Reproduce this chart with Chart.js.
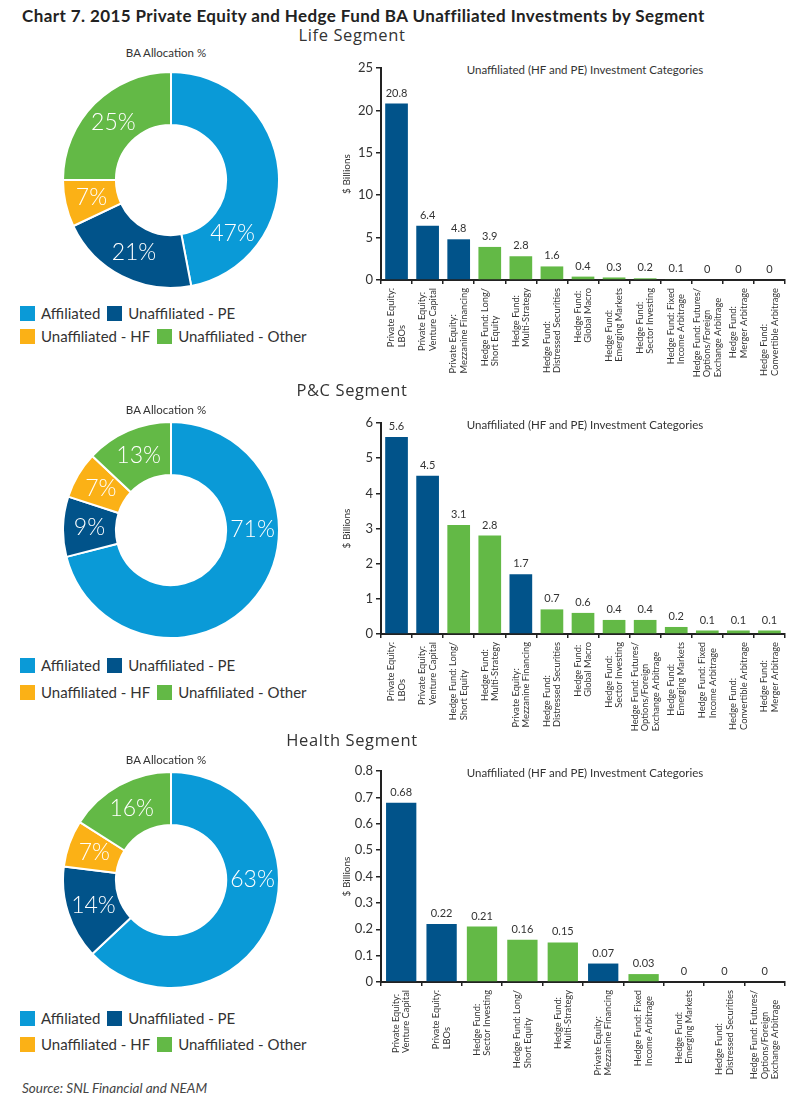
<!DOCTYPE html>
<html>
<head>
<meta charset="utf-8">
<script src="https://cdn.jsdelivr.net/npm/chart.js@4.4.1/dist/chart.umd.min.js"></script>
<style>
  body { margin: 0; background: #fff; font-family: Lato, "Open Sans", sans-serif; color: #333; }
  #page { position: relative; width: 798px; height: 1104px; overflow: hidden; }
  .abs { position: absolute; white-space: nowrap; }
  .title { left: 22px; top: 5px; font-size: 17px; font-weight: bold; color: #222; letter-spacing: 0.4px; }
  .seg { left: 0; width: 704px; text-align: center; font-family: "Open Sans", sans-serif; font-size: 16.5px; color: #333; line-height: 20px; letter-spacing: 0.6px; }
  .ba { left: 66px; width: 200px; text-align: center; font-size: 11.5px; color: #333; line-height: 14px; }
  .bartitle { left: 400px; width: 370px; text-align: center; font-size: 11.5px; color: #333; line-height: 14px; }
  .legrow { left: 20px; display: flex; align-items: center; font-size: 15px; color: #333; line-height: 18px; }
  .legitem { display: flex; align-items: center; margin-right: 7px; }
  .box { width: 15px; height: 15px; margin-right: 6px; }
  .source { left: 22px; top: 1080px; font-size: 13.5px; font-style: italic; color: #444; }
</style>
</head>
<body>
<div id="page">
  <div class="abs title">Chart 7. 2015 Private Equity and Hedge Fund BA Unaffiliated Investments by Segment</div>
  <div class="abs source">Source: SNL Financial and NEAM</div>
</div>

<script>
// donut segments
const segLabels = ['Affiliated', 'Unaffiliated - PE', 'Unaffiliated - HF', 'Unaffiliated - Other'];
const segColors = ['#0a9ad7', '#01538a', '#fbb116', '#63b946'];
const lifeShare = [47, 21, 7, 25];
const pcShare = [71, 9, 7, 13];
const healthShare = [63, 14, 7, 16];

// bar colours: private equity vs hedge fund
const peColor = '#01538a';
const hfColor = '#63b946';

// Life segment bars
const lifeCats = [
  ['Private Equity:', 'LBOs'],
  ['Private Equity:', 'Venture Capital'],
  ['Private Equity:', 'Mezzanine Financing'],
  ['Hedge Fund: Long/', 'Short Equity'],
  ['Hedge Fund:', 'Multi-Strategy'],
  ['Hedge Fund:', 'Distressed Securities'],
  ['Hedge Fund:', 'Global Macro'],
  ['Hedge Fund:', 'Emerging Markets'],
  ['Hedge Fund:', 'Sector Investing'],
  ['Hedge Fund: Fixed', 'Income Arbitrage'],
  ['Hedge Fund: Futures/', 'Options/Foreign', 'Exchange Arbitrage'],
  ['Hedge Fund:', 'Merger Arbitrage'],
  ['Hedge Fund:', 'Convertible Arbitrage']
];
const lifeVals = [20.8, 6.4, 4.8, 3.9, 2.8, 1.6, 0.4, 0.3, 0.2, 0.1, 0, 0, 0];
const lifeTicks = { max: 25, step: 5 };

// P&C segment bars
const pcCats = [
  ['Private Equity:', 'LBOs'],
  ['Private Equity:', 'Venture Capital'],
  ['Hedge Fund: Long/', 'Short Equity'],
  ['Hedge Fund:', 'Multi-Strategy'],
  ['Private Equity:', 'Mezzanine Financing'],
  ['Hedge Fund:', 'Distressed Securities'],
  ['Hedge Fund:', 'Global Macro'],
  ['Hedge Fund:', 'Sector Investing'],
  ['Hedge Fund: Futures/', 'Options/Foreign', 'Exchange Arbitrage'],
  ['Hedge Fund:', 'Emerging Markets'],
  ['Hedge Fund: Fixed', 'Income Arbitrage'],
  ['Hedge Fund:', 'Convertible Arbitrage'],
  ['Hedge Fund:', 'Merger Arbitrage']
];
const pcVals = [5.6, 4.5, 3.1, 2.8, 1.7, 0.7, 0.6, 0.4, 0.4, 0.2, 0.1, 0.1, 0.1];
const pcTicks = { max: 6, step: 1 };

// Health segment bars
const healthCats = [
  ['Private Equity:', 'Venture Capital'],
  ['Private Equity:', 'LBOs'],
  ['Hedge Fund:', 'Sector Investing'],
  ['Hedge Fund: Long/', 'Short Equity'],
  ['Hedge Fund:', 'Multi-Strategy'],
  ['Private Equity:', 'Mezzanine Financing'],
  ['Hedge Fund: Fixed', 'Income Arbitrage'],
  ['Hedge Fund:', 'Emerging Markets'],
  ['Hedge Fund:', 'Distressed Securities'],
  ['Hedge Fund: Futures/', 'Options/Foreign', 'Exchange Arbitrage']
];
const healthVals = [0.68, 0.22, 0.21, 0.16, 0.15, 0.07, 0.03, 0, 0, 0];
const healthTicks = { max: 0.8, step: 0.1 };

// page layout per segment
const sections = [
  { name: 'Life Segment', shares: lifeShare, cats: lifeCats, vals: lifeVals, ticks: lifeTicks,
    subY: 25, baY: 46, cy: 180, legY: [304, 327], plotTop: 68, axisY: 280, bigAngle: 131, barPct: 0.73 },
  { name: 'P&C Segment', shares: pcShare, cats: pcCats, vals: pcVals, ticks: pcTicks,
    subY: 380, baY: 403, cy: 530, legY: [656, 683], plotTop: 423, axisY: 634, bigAngle: 90, barPct: 0.73 },
  { name: 'Health Segment', shares: healthShare, cats: healthCats, vals: healthVals, ticks: healthTicks,
    subY: 730, baY: 753, cy: 880, legY: [1009, 1035], plotTop: 771, axisY: 982, bigAngle: 90, barPct: 0.75 }
];

const page = document.getElementById('page');

function addDiv(cls, top, html) {
  const d = document.createElement('div');
  d.className = 'abs ' + cls;
  d.style.top = top + 'px';
  d.innerHTML = html;
  page.appendChild(d);
  return d;
}

function addCanvas(left, top, w, h) {
  const c = document.createElement('canvas');
  c.width = w; c.height = h;
  c.style.position = 'absolute';
  c.style.left = left + 'px';
  c.style.top = top + 'px';
  c.style.width = w + 'px';
  c.style.height = h + 'px';
  page.appendChild(c);
  return c;
}

// percent labels inside the ring
const pctLabels = {
  id: 'pctLabels',
  afterDatasetsDraw(chart, args, opts) {
    const ctx = chart.ctx;
    const vals = chart.data.datasets[0].data;
    ctx.save();
    ctx.font = '300 23px Lato';
    ctx.fillStyle = '#fff';
    ctx.textAlign = 'center';
    ctx.textBaseline = 'middle';
    chart.getDatasetMeta(0).data.forEach((arc, i) => {
      let a = (arc.startAngle + arc.endAngle) / 2;
      if (opts.angles && opts.angles[i] != null) a = (opts.angles[i] - 90) * Math.PI / 180;
      const r = (arc.innerRadius + arc.outerRadius) / 2;
      ctx.fillText(vals[i] + '%', arc.x + r * Math.cos(a), arc.y + r * Math.sin(a));
    });
    ctx.restore();
  }
};

// value labels above bars
const valueLabels = {
  id: 'valueLabels',
  afterDatasetsDraw(chart) {
    const ctx = chart.ctx;
    const vals = chart.data.datasets[0].data;
    ctx.save();
    ctx.font = '11px Lato';
    ctx.fillStyle = '#333';
    ctx.textAlign = 'center';
    ctx.textBaseline = 'bottom';
    chart.getDatasetMeta(0).data.forEach((bar, i) => {
      ctx.fillText(String(vals[i]), bar.x, bar.y - 5);
    });
    ctx.restore();
  }
};

// rotated category labels, lines left aligned, block ending near the axis
const catLabels = {
  id: 'catLabels',
  afterDraw(chart) {
    const xs = chart.scales.x;
    const ctx = chart.ctx;
    ctx.save();
    ctx.font = '9.3px Lato';
    ctx.fillStyle = '#333';
    ctx.textBaseline = 'middle';
    ctx.textAlign = 'left';
    chart.data.labels.forEach((lines, i) => {
      const x = xs.getPixelForValue(i);
      const w = Math.max(...lines.map(l => ctx.measureText(l).width));
      ctx.save();
      ctx.translate(x, xs.top + 8 + w);
      ctx.rotate(-Math.PI / 2);
      lines.forEach((l, j) => ctx.fillText(l, 0, (j - (lines.length - 1) / 2) * 10.5));
      ctx.restore();
    });
    ctx.restore();
  }
};

sections.forEach(s => {
  addDiv('seg', s.subY, s.name);
  addDiv('ba', s.baY, 'BA Allocation %');

  // legend
  const rows = [[0, 1], [2, 3]];
  rows.forEach((r, k) => {
    const html = r.map(i =>
      '<span class="legitem"><span class="box" style="background:' + segColors[i] + '"></span>' + segLabels[i] + '</span>'
    ).join('');
    addDiv('legrow', s.legY[k], html);
  });

  // donut
  const size = 218;
  const dc = addCanvas(171 - size / 2, s.cy - size / 2, size, size);
  new Chart(dc, {
    type: 'doughnut',
    data: {
      labels: segLabels,
      datasets: [{
        data: s.shares,
        backgroundColor: segColors,
        borderColor: '#fff',
        borderWidth: 2,
        hoverOffset: 0
      }]
    },
    options: {
      responsive: false,
      animation: false,
      cutout: '51%',
      layout: { padding: 0 },
      plugins: {
        legend: { display: false },
        tooltip: { enabled: false },
        pctLabels: { angles: [s.bigAngle, null, null, null] }
      }
    },
    plugins: [pctLabels]
  });

  // bar chart
  addDiv('bartitle', s.plotTop - 5, 'Unaffiliated (HF and PE) Investment Categories');
  const padTop = 13;
  const padBottom = 100;
  const top = s.plotTop - padTop;
  const h = (s.axisY - s.plotTop) + padTop + 4 + padBottom;
  const bc = addCanvas(340, top, 450, h);
  new Chart(bc, {
    type: 'bar',
    data: {
      labels: s.cats,
      datasets: [{
        data: s.vals,
        backgroundColor: s.cats.map(c => c[0].startsWith('Private') ? peColor : hfColor),
        barPercentage: s.barPct,
        categoryPercentage: 1
      }]
    },
    options: {
      responsive: false,
      animation: false,
      layout: { padding: { top: padTop, right: 5, bottom: padBottom, left: 0 } },
      plugins: { legend: { display: false }, tooltip: { enabled: false } },
      scales: {
        x: {
          grid: { display: true, drawOnChartArea: false, offset: true, tickLength: 4, color: '#222', lineWidth: 1.5 },
          border: { color: '#222', width: 2 },
          ticks: { display: false }
        },
        y: {
          min: 0,
          max: s.ticks.max,
          ticks: {
            stepSize: s.ticks.step,
            font: { size: 13, family: 'Lato' },
            color: '#333',
            padding: 3,
            callback: v => String(Number(v.toFixed(2)))
          },
          grid: { drawOnChartArea: false, tickLength: 5, color: '#222', lineWidth: 1.5 },
          border: { color: '#222', width: 2 },
          title: { display: true, text: '$ Billions', font: { size: 10, family: 'Lato' }, color: '#333', padding: { top: 1, bottom: 0 } },
          afterFit: sc => { sc.width = 41; }
        }
      }
    },
    plugins: [valueLabels, catLabels]
  });
});
</script>
</body>
</html>
